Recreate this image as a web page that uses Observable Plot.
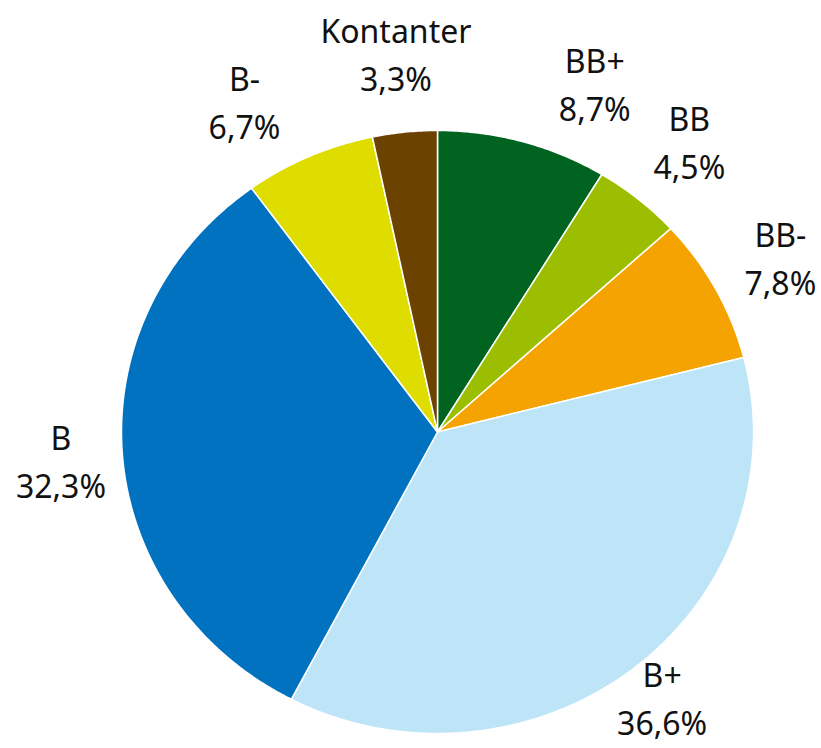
<!DOCTYPE html>
<html>
<head>
<meta charset="utf-8">
<script src="https://cdn.jsdelivr.net/npm/d3@7"></script>
<script src="https://cdn.jsdelivr.net/npm/@observablehq/plot@0.6"></script>
<style>
  html, body { margin: 0; padding: 0; background: #fff; }
  #chart svg { display: block; }
</style>
</head>
<body>
<div id="chart"></div>
<script>
// Data (clockwise from 12 o'clock)
const categories = ["BB+", "BB", "BB-", "B+", "B", "B-", "Kontanter"];
const shares = [8.7, 4.5, 7.8, 36.6, 32.3, 6.7, 3.3];
const colors = ["#00631f", "#9bbf00", "#f5a300", "#bde4f7", "#0072bf", "#dfdc00", "#6b4200"];

// Layout settings
const W = 821, H = 748;
const cx = 437, cy = 431.5, rx = 316, ry = 301.5;
const labelNudgeDeg = {"BB+": 7.5, "B-": -5};
const maxLabelCenterPx = H - 53; // keep two-line labels inside the bottom edge

const total = d3.sum(shares);
let acc = 0;
const slices = categories.map((c, i) => {
  const a0 = acc / total * 2 * Math.PI;
  acc += shares[i];
  const a1 = acc / total * 2 * Math.PI;
  return {category: c, share: shares[i], color: colors[i], a0, a1};
});

function slicePoints(s) {
  const pts = [{u: 0, v: 0}];
  const n = Math.max(4, Math.ceil((s.a1 - s.a0) / (Math.PI / 360)));
  for (let k = 0; k <= n; k++) {
    const a = s.a0 + (s.a1 - s.a0) * k / n;
    pts.push({u: Math.sin(a), v: Math.cos(a)});
  }
  pts.push({u: 0, v: 0});
  return pts;
}

const vMin = (cy - maxLabelCenterPx) / ry;
const labels = slices.map(s => {
  const a = (s.a0 + s.a1) / 2 + (labelNudgeDeg[s.category] || 0) * Math.PI / 180;
  const r = 1.2 + 0.07 * Math.cos(a);
  return {
    u: r * Math.sin(a),
    v: Math.max(vMin, r * Math.cos(a)),
    text: s.category + "\n" + s.share.toFixed(1).replace(".", ",") + "%"
  };
});

const marks = slices.map(s =>
  Plot.line(slicePoints(s), {x: "u", y: "v", fill: s.color, stroke: "#fff", strokeWidth: 1.5, curve: "linear"})
);
marks.push(Plot.text(labels, {
  x: "u", y: "v", text: "text", fontSize: 32, lineHeight: 1.5,
  fill: "#111", textAnchor: "middle", lineAnchor: "middle"
}));

const chart = Plot.plot({
  width: W, height: H, margin: 0,
  x: {domain: [-cx / rx, (W - cx) / rx], axis: null},
  y: {domain: [(cy - H) / ry, cy / ry], axis: null},
  style: {fontFamily: "'Noto Sans', 'Open Sans', sans-serif", background: "#fff"},
  marks
});
document.getElementById("chart").appendChild(chart);
</script>
</body>
</html>
